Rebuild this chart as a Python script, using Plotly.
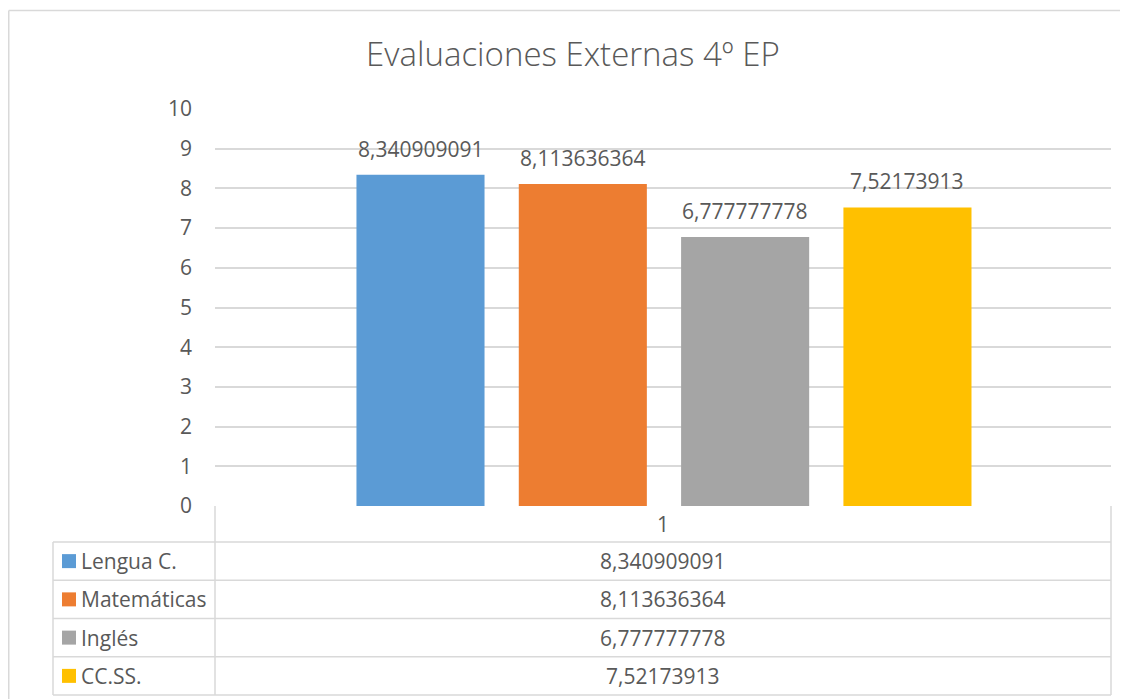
import plotly.graph_objects as go

# ---------------- data ----------------
TITLE = "Evaluaciones Externas 4º EP"
CATEGORY_LABEL = "1"
SUBJECTS = ["Lengua C.", "Matemáticas", "Inglés", "CC.SS."]
VALUES = [8.340909091, 8.113636364, 6.777777778, 7.52173913]
COLORS = ["#5b9bd5", "#ed7d31", "#a5a5a5", "#ffc000"]
Y_TICKS = list(range(0, 11))

# ---------------- layout constants (page pixels) ----------------
PAGE_W, PAGE_H = 1128, 699
OFF = 8  # default body margin of the html page
W, H = PAGE_W - OFF, PAGE_H - OFF
# plot area in page pixels
PL, PR, PT, PB = 215, 1111, 109, 506
FONT = "Open Sans"
TXT = "#595959"
GRID = "#d9d9d9"
FS = 21


def fmt(v):
    return str(v).replace(".", ",")


def px_x(X):
    return (X - PL) / (PR - PL)


def px_y(Y):
    return (PB - Y) / (PB - PT)


fig = go.Figure()
fig.add_trace(go.Bar(
    x=SUBJECTS, y=VALUES,
    marker=dict(color=COLORS, line=dict(width=0)),
    showlegend=False, hoverinfo="skip",
))

annotations = []
shapes = []

# data labels above bars
for s, v in zip(SUBJECTS, VALUES):
    annotations.append(dict(
        x=s, y=v, xref="x", yref="y", text=fmt(v), showarrow=False,
        xanchor="center", yanchor="bottom", yshift=10,
        font=dict(family=FONT, size=FS, color=TXT),
    ))

# ---------------- data table ----------------
HEADER_TOP = PB
HEADER_BOT = 542
ROW_H = (695 - HEADER_BOT) / len(SUBJECTS)
LEFT_COL = 53
row_lines = [HEADER_BOT + i * ROW_H for i in range(len(SUBJECTS) + 1)]

line_style = dict(color=GRID, width=1.5)
for Y in row_lines:
    shapes.append(dict(type="line", xref="paper", yref="paper",
                       x0=px_x(LEFT_COL), x1=px_x(PR), y0=px_y(Y), y1=px_y(Y),
                       line=line_style))
shapes.append(dict(type="line", xref="paper", yref="paper",
                   x0=px_x(LEFT_COL), x1=px_x(LEFT_COL),
                   y0=px_y(HEADER_BOT), y1=px_y(row_lines[-1]), line=line_style))
for X in (PL, PR):
    shapes.append(dict(type="line", xref="paper", yref="paper",
                       x0=px_x(X), x1=px_x(X),
                       y0=px_y(HEADER_TOP), y1=px_y(row_lines[-1]), line=line_style))

annotations.append(dict(
    x=0.5, y=px_y((HEADER_TOP + HEADER_BOT) / 2), xref="paper", yref="paper",
    text=CATEGORY_LABEL, showarrow=False, xanchor="center", yanchor="middle",
    font=dict(family=FONT, size=FS, color=TXT),
))

for i, (s, v, c) in enumerate(zip(SUBJECTS, VALUES, COLORS)):
    yc = HEADER_BOT + (i + 0.5) * ROW_H
    shapes.append(dict(type="rect", xref="paper", yref="paper",
                       x0=px_x(62), x1=px_x(76), y0=px_y(yc - 7), y1=px_y(yc + 7),
                       fillcolor=c, line=dict(width=0)))
    annotations.append(dict(
        x=px_x(79), y=px_y(yc), xref="paper", yref="paper", text=s,
        showarrow=False, xanchor="left", yanchor="middle",
        font=dict(family=FONT, size=FS, color=TXT),
    ))
    annotations.append(dict(
        x=0.5, y=px_y(yc), xref="paper", yref="paper", text=fmt(v),
        showarrow=False, xanchor="center", yanchor="middle",
        font=dict(family=FONT, size=FS, color=TXT),
    ))

# outer chart border (top and left visible)
shapes.append(dict(type="line", xref="paper", yref="paper",
                   x0=px_x(OFF + 0.75), x1=px_x(PAGE_W + 5), y0=px_y(10.5), y1=px_y(10.5),
                   line=dict(color=GRID, width=1.5)))
shapes.append(dict(type="line", xref="paper", yref="paper",
                   x0=px_x(OFF + 0.75), x1=px_x(OFF + 0.75), y0=px_y(10.5), y1=px_y(PAGE_H + 5),
                   line=dict(color=GRID, width=1.5)))

fig.update_layout(
    width=W, height=H,
    margin=dict(l=PL - OFF, r=PAGE_W - PR, t=PT - OFF, b=PAGE_H - PB, pad=0),
    paper_bgcolor="white", plot_bgcolor="white",
    font=dict(family=FONT, size=FS, color=TXT),
    title=dict(text=TITLE, x=(573 - OFF) / W, xanchor="center", xref="container",
               y=1 - 46 / H, yanchor="middle", yref="container",
               font=dict(family=FONT, size=33, color=TXT, weight=300)),
    bargap=0.211,
    xaxis=dict(range=[-1.266, 4.254], showticklabels=False, showgrid=False,
               zeroline=False, showline=False, fixedrange=True),
    yaxis=dict(range=[0, 10], tickvals=Y_TICKS, showgrid=True, gridcolor=GRID,
               gridwidth=1.5, zeroline=False, showline=False,
               ticklabelstandoff=22, tickfont=dict(family=FONT, size=FS, color=TXT)),
    annotations=annotations,
    shapes=shapes,
)

fig.write_html("out.html")
